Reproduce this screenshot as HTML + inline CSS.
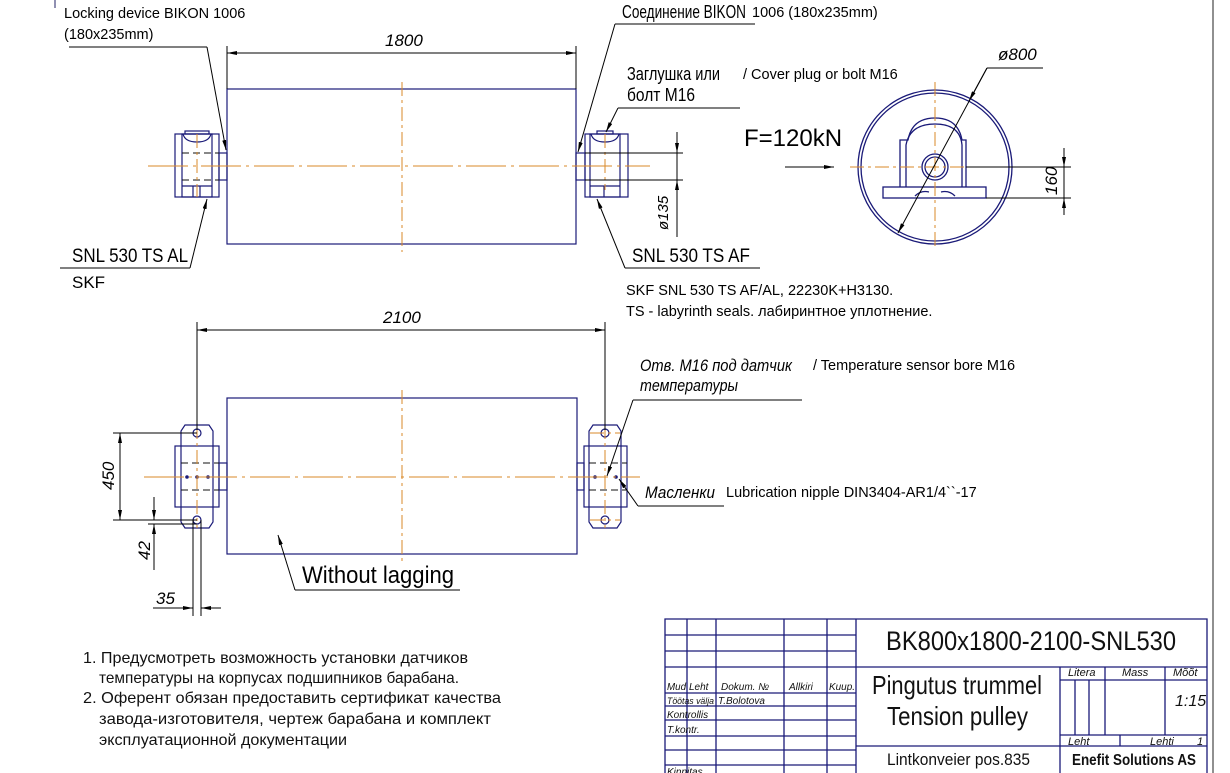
<!DOCTYPE html>
<html><head><meta charset="utf-8"><style>
html,body{margin:0;padding:0;background:#fff;}
svg{display:block;}
.cad{font-family:"Liberation Sans Narrow","Liberation Sans","DejaVu Sans Condensed",sans-serif;font-style:italic;}
.up{font-style:normal;}
.cal{font-family:"Liberation Sans","Noto Sans CJK SC",sans-serif;}
</style></head><body>
<svg width="1230" height="773" viewBox="0 0 1230 773" xmlns="http://www.w3.org/2000/svg">
<defs>
<marker id="a" viewBox="0 0 10 4" refX="10" refY="2" markerWidth="10" markerHeight="4" orient="auto-start-reverse" markerUnits="userSpaceOnUse"><path d="M0,0 L10,2 L0,4z" fill="#000"/></marker>
</defs>
<rect width="1230" height="773" fill="#fff"/>
<line x1="1213" y1="0" x2="1213" y2="773" stroke="#222" stroke-width="1"/>
<line x1="55" y1="0" x2="55" y2="8" stroke="#226" stroke-width="1"/>

<!-- TOP VIEW -->
<g stroke="#1a1a78" stroke-width="1.2" fill="none">
<rect x="227" y="89" width="349" height="155"/>
<rect x="175" y="134" width="44" height="63"/>
<rect x="182" y="134" width="30" height="63"/>
<rect x="219" y="153" width="8" height="27"/>
<path d="M183,134 q2,8 14,8 q12,0 14,-8"/>
<rect x="185" y="131" width="24" height="3"/>
<line x1="193" y1="186" x2="193" y2="197"/><line x1="200" y1="186" x2="200" y2="197"/>
<line x1="182" y1="186" x2="212" y2="186"/>
<rect x="585" y="134" width="43" height="63"/>
<rect x="590" y="134" width="30" height="63"/>
<rect x="576" y="153" width="9" height="27"/>
<path d="M591,134 q2,8 14,8 q12,0 14,-8"/>
<rect x="597" y="131" width="16" height="3"/>
<line x1="604" y1="186" x2="604" y2="197"/>
<line x1="590" y1="186" x2="620" y2="186"/>
</g>
<g stroke="#111" stroke-width="1" stroke-dasharray="7,4">
<line x1="182" y1="153" x2="219" y2="153"/><line x1="182" y1="180" x2="219" y2="180"/>
</g>
<g stroke="#d98a2a" stroke-width="1" stroke-dasharray="40,5,3,5">
<line x1="148" y1="166" x2="650" y2="166"/>
</g>
<g stroke="#d98a2a" stroke-width="1" stroke-dasharray="14,4,3,4">
<line x1="402" y1="82" x2="402" y2="252"/>
<line x1="197" y1="134" x2="197" y2="197"/>
<line x1="605" y1="134" x2="605" y2="190"/>
</g>
<g stroke="#000" stroke-width="1" fill="none">
<line x1="227" y1="46" x2="227" y2="89"/><line x1="576" y1="46" x2="576" y2="89"/>
<line x1="227" y1="53" x2="576" y2="53" marker-start="url(#a)" marker-end="url(#a)"/>
<line x1="585" y1="153" x2="683" y2="153"/><line x1="585" y1="180" x2="683" y2="180"/>
<line x1="677" y1="132" x2="677" y2="153" marker-end="url(#a)"/>
<line x1="677" y1="237" x2="677" y2="180" marker-end="url(#a)"/>
<line x1="677" y1="153" x2="677" y2="180"/>
<polyline points="69,47 207,47"/>
<line x1="207" y1="47" x2="226" y2="150" marker-end="url(#a)"/>
<polyline points="755,24 615,24"/>
<line x1="615" y1="24" x2="578" y2="152" marker-end="url(#a)"/>
<polyline points="740,108 618,108"/>
<line x1="618" y1="108" x2="606" y2="132" marker-end="url(#a)"/>
<line x1="60" y1="268" x2="190" y2="268"/>
<line x1="190" y1="268" x2="207" y2="199" marker-end="url(#a)"/>
<line x1="625" y1="268" x2="760" y2="268"/>
<line x1="625" y1="268" x2="597" y2="199" marker-end="url(#a)"/>
<line x1="785" y1="167" x2="834" y2="167" marker-end="url(#a)"/>
</g>
<text x="385" y="46" class="cad" font-size="17">1800</text>
<text transform="translate(668,230) rotate(-90)" class="cad" font-size="15">ø135</text>
<text x="64" y="18" class="cal" font-size="14.5">Locking device BIKON 1006</text>
<text x="64" y="39" class="cal" font-size="14.5">(180x235mm)</text>
<text x="622" y="18" class="cad up" font-size="18" textLength="124" lengthAdjust="spacingAndGlyphs">Соединение BIKON</text>
<text x="752" y="17" class="cal" font-size="14.5">1006 (180x235mm)</text>
<text x="627" y="80" class="cad up" font-size="18" textLength="93" lengthAdjust="spacingAndGlyphs">Заглушка или</text>
<text x="627" y="101" class="cad up" font-size="18" textLength="68" lengthAdjust="spacingAndGlyphs">болт М16</text>
<text x="743" y="79" class="cal" font-size="14.5">/ Cover plug or bolt M16</text>
<text x="72" y="262" class="cad up" font-size="19" textLength="116" lengthAdjust="spacingAndGlyphs">SNL 530 TS AL</text>
<text x="72" y="288" class="cad up" font-size="17">SKF</text>
<text x="632" y="262" class="cad up" font-size="19" textLength="118" lengthAdjust="spacingAndGlyphs">SNL 530 TS AF</text>
<text x="626" y="295" class="cal" font-size="14.5">SKF SNL 530 TS AF/AL, 22230K+H3130.</text>
<text x="626" y="316" class="cal" font-size="14.5">TS - labyrinth seals. лабиринтное уплотнение.</text>
<text x="744" y="146" class="cal" font-size="24">F=120kN</text>

<!-- CIRCLE VIEW -->
<g stroke="#1a1a78" stroke-width="1.3" fill="none">
<circle cx="935" cy="167" r="77"/>
<circle cx="935" cy="167" r="74"/>
<rect x="883" y="187" width="103" height="11"/>
<path d="M900,187 L900,140 L908,140 Q912,118 935,118 Q958,118 962,140 L966,140 L966,187"/>
<path d="M906,187 L906,145 Q910,124 935,124 Q960,124 962,145 L962,187"/>
<circle cx="935" cy="167" r="13"/>
<circle cx="935" cy="167" r="10"/>
<path d="M915,196 q6,-6 14,-4 M941,192 q8,-2 14,4"/>
</g>
<g stroke="#d98a2a" stroke-width="1" stroke-dasharray="14,4,3,4">
<line x1="850" y1="167" x2="1020" y2="167"/><line x1="935" y1="82" x2="935" y2="250"/>
</g>
<g stroke="#000" stroke-width="1" fill="none">
<line x1="966" y1="167" x2="1071" y2="167"/><line x1="986" y1="198" x2="1071" y2="198"/>
<line x1="1064" y1="148" x2="1064" y2="167" marker-end="url(#a)"/>
<line x1="1064" y1="215" x2="1064" y2="198" marker-end="url(#a)"/>
<line x1="1064" y1="167" x2="1064" y2="198"/>
<line x1="987" y1="68" x2="898" y2="233" marker-end="url(#a)"/>
<line x1="987" y1="68" x2="969" y2="101" marker-end="url(#a)"/>
<line x1="987" y1="68" x2="1043" y2="68"/>
</g>
<text x="998" y="60" class="cad" font-size="17">ø800</text>
<text transform="translate(1057,195) rotate(-90)" class="cad" font-size="17">160</text>

<!-- BOTTOM VIEW -->
<g stroke="#1a1a78" stroke-width="1.2" fill="none">
<rect x="227" y="398" width="350" height="156"/>
<path d="M185,425 L209,425 L213,431 L213,522 L209,528 L185,528 L181,522 L181,431 Z"/>
<rect x="175" y="446" width="44" height="61"/>
<rect x="219" y="463" width="8" height="27"/>
<circle cx="197" cy="433" r="4"/><circle cx="197" cy="520" r="4"/>
<path d="M593,425 L617,425 L621,431 L621,522 L617,528 L593,528 L589,522 L589,431 Z"/>
<rect x="584" y="446" width="43" height="61"/>
<rect x="577" y="463" width="7" height="27"/>
<circle cx="605" cy="433" r="4"/><circle cx="605" cy="520" r="4"/>
</g>
<g fill="#1a1a78"><circle cx="187" cy="477" r="1.8"/><circle cx="197" cy="477" r="1.8"/><circle cx="208" cy="477" r="1.8"/><circle cx="595" cy="477" r="1.8"/><circle cx="616" cy="477" r="1.8"/></g>
<g stroke="#111" stroke-width="1" stroke-dasharray="7,4">
<line x1="181" y1="463" x2="219" y2="463"/><line x1="181" y1="490" x2="219" y2="490"/>
<line x1="589" y1="463" x2="627" y2="463"/><line x1="589" y1="490" x2="627" y2="490"/>
</g>
<g stroke="#d98a2a" stroke-width="1" stroke-dasharray="40,5,3,5">
<line x1="144" y1="477" x2="640" y2="477"/>
</g>
<g stroke="#d98a2a" stroke-width="1" stroke-dasharray="14,4,3,4">
<line x1="402" y1="390" x2="402" y2="562"/>
<line x1="197" y1="425" x2="197" y2="528"/>
<line x1="605" y1="425" x2="605" y2="528"/>
<line x1="590" y1="433" x2="620" y2="433"/><line x1="590" y1="520" x2="620" y2="520"/>
</g>
<g stroke="#000" stroke-width="1" fill="none">
<line x1="197" y1="322" x2="197" y2="430"/><line x1="605" y1="322" x2="605" y2="430"/>
<line x1="197" y1="330" x2="605" y2="330" marker-start="url(#a)" marker-end="url(#a)"/>
<line x1="113" y1="433" x2="197" y2="433"/><line x1="113" y1="520" x2="197" y2="520"/>
<line x1="120" y1="433" x2="120" y2="520" marker-start="url(#a)" marker-end="url(#a)"/>
<line x1="148" y1="524" x2="197" y2="524"/>
<line x1="154" y1="497" x2="154" y2="520" marker-end="url(#a)"/>
<line x1="154" y1="570" x2="154" y2="524" marker-end="url(#a)"/>
<line x1="193" y1="520" x2="193" y2="616"/><line x1="201" y1="520" x2="201" y2="616"/>
<line x1="153" y1="608" x2="193" y2="608" marker-end="url(#a)"/>
<line x1="221" y1="608" x2="201" y2="608" marker-end="url(#a)"/>
<polyline points="460,590 295,590"/>
<line x1="295" y1="590" x2="278" y2="535" marker-end="url(#a)"/>
<line x1="633" y1="400" x2="802" y2="400"/>
<line x1="633" y1="400" x2="607" y2="476" marker-end="url(#a)"/>
<line x1="638" y1="506" x2="724" y2="506"/>
<line x1="638" y1="506" x2="619" y2="479" marker-end="url(#a)"/>
</g>
<text x="383" y="323" class="cad" font-size="17">2100</text>
<text transform="translate(114,490) rotate(-90)" class="cad" font-size="17">450</text>
<text transform="translate(150,560) rotate(-90)" class="cad" font-size="17">42</text>
<text x="156" y="604" class="cad" font-size="17">35</text>
<text x="302" y="583" class="cad up" font-size="24" textLength="152" lengthAdjust="spacingAndGlyphs">Without lagging</text>
<text x="640" y="371" class="cad" font-size="17" textLength="152" lengthAdjust="spacingAndGlyphs">Отв. М16 под датчик</text>
<text x="640" y="391" class="cad" font-size="17" textLength="98" lengthAdjust="spacingAndGlyphs">температуры</text>
<text x="813" y="370" class="cal" font-size="14.5">/ Temperature sensor bore M16</text>
<text x="645" y="498" class="cad" font-size="17" textLength="70" lengthAdjust="spacingAndGlyphs">Масленки</text>
<text x="726" y="497" class="cal" font-size="14.5">Lubrication nipple DIN3404-AR1/4``-17</text>

<!-- NOTES -->
<g class="cad up" font-size="16" fill="#111">
<text x="83" y="663" textLength="385" lengthAdjust="spacingAndGlyphs">1. Предусмотреть возможность установки датчиков</text>
<text x="99" y="683" textLength="360" lengthAdjust="spacingAndGlyphs">температуры на корпусах подшипников барабана.</text>
<text x="83" y="703" textLength="418" lengthAdjust="spacingAndGlyphs">2. Оферент обязан предоставить сертификат качества</text>
<text x="99" y="724" textLength="392" lengthAdjust="spacingAndGlyphs">завода-изготовителя, чертеж барабана и  комплект</text>
<text x="99" y="745" textLength="248" lengthAdjust="spacingAndGlyphs">эксплуатационной документации</text>
</g>

<!-- TITLE BLOCK -->
<g stroke="#1a1a78" stroke-width="1.3" fill="none">
<polyline points="665,773 665,619 1207,619 1207,773"/>
<line x1="856" y1="619" x2="856" y2="773"/>
<line x1="687" y1="619" x2="687" y2="773"/>
<line x1="716" y1="619" x2="716" y2="773"/>
<line x1="784" y1="619" x2="784" y2="773"/>
<line x1="827" y1="619" x2="827" y2="773"/>
<line x1="665" y1="635" x2="856" y2="635"/>
<line x1="665" y1="651" x2="856" y2="651"/>
<line x1="665" y1="667" x2="1207" y2="667"/>
<line x1="665" y1="693" x2="856" y2="693"/>
<line x1="665" y1="706" x2="856" y2="706"/>
<line x1="665" y1="720" x2="856" y2="720"/>
<line x1="665" y1="736" x2="856" y2="736"/>
<line x1="665" y1="750" x2="856" y2="750"/>
<line x1="665" y1="765" x2="856" y2="765"/>
<line x1="1060" y1="667" x2="1060" y2="773"/>
<line x1="856" y1="746" x2="1207" y2="746"/>
<line x1="1060" y1="680" x2="1207" y2="680"/>
<line x1="1060" y1="735" x2="1207" y2="735"/>
<line x1="1105" y1="667" x2="1105" y2="735"/>
<line x1="1165" y1="667" x2="1165" y2="735"/>
<line x1="1075" y1="680" x2="1075" y2="735"/>
<line x1="1089" y1="680" x2="1089" y2="735"/>
<line x1="1120" y1="735" x2="1120" y2="746"/>
</g>
<g class="cad" fill="#111">
<text x="886" y="650" class="cad up" font-size="27" textLength="290" lengthAdjust="spacingAndGlyphs">BK800x1800-2100-SNL530</text>
<text x="872" y="694" class="cad up" font-size="26" textLength="170" lengthAdjust="spacingAndGlyphs">Pingutus trummel</text>
<text x="887" y="725" class="cad up" font-size="26" textLength="141" lengthAdjust="spacingAndGlyphs">Tension pulley</text>
<text x="887" y="765" class="cad up" font-size="17" textLength="143" lengthAdjust="spacingAndGlyphs">Lintkonveier pos.835</text>
<text x="1068" y="676" font-size="11">Litera</text>
<text x="1122" y="676" font-size="11">Mass</text>
<text x="1173" y="676" font-size="11">Mõõt</text>
<text x="1175" y="706" font-size="16">1:15</text>
<text x="1068" y="745" font-size="11">Leht</text>
<text x="1150" y="745" font-size="11">Lehti</text>
<text x="1197" y="745" font-size="11">1</text>
<text x="667" y="690" font-size="10" textLength="19" lengthAdjust="spacingAndGlyphs">Mud</text>
<text x="689" y="690" font-size="10">Leht</text>
<text x="721" y="690" font-size="10">Dokum. №</text>
<text x="789" y="690" font-size="10">Allkiri</text>
<text x="829" y="690" font-size="10" textLength="26" lengthAdjust="spacingAndGlyphs">Kuup.</text>
<text x="667" y="704" font-size="9" textLength="47" lengthAdjust="spacingAndGlyphs">Töötas välja</text>
<text x="718" y="704" font-size="10">T.Bolotova</text>
<text x="667" y="718" font-size="10">Kontrollis</text>
<text x="667" y="733" font-size="10">T.kontr.</text>
<text x="667" y="775" font-size="10">Kinnitas</text>
</g>
<text x="1072" y="765" class="cal" font-size="16" font-weight="bold" textLength="124" lengthAdjust="spacingAndGlyphs" fill="#111">Enefit Solutions AS</text>
</svg>
</body></html>
